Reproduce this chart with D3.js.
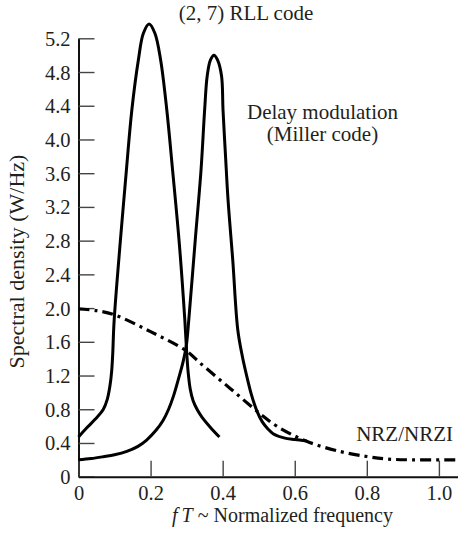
<!DOCTYPE html>
<html>
<head>
<meta charset="utf-8">
<script src="https://cdn.jsdelivr.net/npm/d3@7"></script>
<style>
  html, body { margin: 0; padding: 0; background: #fff; }
  svg { display: block; }
  text { font-family: "Liberation Serif", "Times New Roman", serif; fill: #231f20; }
</style>
</head>
<body>
<svg id="chart" width="458" height="536"></svg>
<script>
// ---- data ----
const rllX = [0, 0.023, 0.046, 0.069, 0.080, 0.087, 0.092, 0.095, 0.099, 0.133, 0.148, 0.166, 0.180, 0.196, 0.212, 0.228, 0.245, 0.261, 0.280, 0.295, 0.300, 0.304, 0.310, 0.318, 0.330, 0.342, 0.365, 0.391];
const rllY = [0.47, 0.58, 0.68, 0.80, 0.92, 1.07, 1.25, 1.46, 1.86, 3.64, 4.35, 4.94, 5.26, 5.37, 5.26, 4.94, 4.35, 3.64, 2.75, 1.86, 1.49, 1.25, 1.04, 0.90, 0.79, 0.71, 0.59, 0.47];

const millerX = [0, 0.035, 0.069, 0.10, 0.134, 0.165, 0.189, 0.215, 0.235, 0.250, 0.263, 0.278, 0.290, 0.299, 0.306, 0.324, 0.340, 0.350, 0.357, 0.366, 0.376, 0.386, 0.397, 0.401, 0.408, 0.415, 0.428, 0.442, 0.455, 0.467, 0.480, 0.494, 0.510, 0.525, 0.540, 0.570, 0.600, 0.633];
const millerY = [0.20, 0.215, 0.237, 0.26, 0.30, 0.36, 0.435, 0.55, 0.67, 0.80, 0.95, 1.17, 1.36, 1.55, 1.86, 2.81, 3.64, 4.35, 4.75, 4.94, 5.00, 4.94, 4.75, 4.35, 3.80, 3.28, 2.57, 1.74, 1.42, 1.19, 0.97, 0.79, 0.65, 0.57, 0.51, 0.46, 0.44, 0.425];

const nrzX = [0, 0.05, 0.1, 0.2, 0.3, 0.337, 0.42, 0.503, 0.55, 0.633, 0.725, 0.8, 0.855, 0.928, 1.05];
const nrzY = [1.99, 1.97, 1.92, 1.72, 1.49, 1.35, 1.05, 0.75, 0.60, 0.42, 0.30, 0.24, 0.21, 0.20, 0.20];

const yTicks = [0, 0.4, 0.8, 1.2, 1.6, 2.0, 2.4, 2.8, 3.2, 3.6, 4.0, 4.4, 4.8, 5.2];
const yTickLabels = ["0", "0.4", "0.8", "1.2", "1.6", "2.0", "2.4", "2.8", "3.2", "3.6", "4.0", "4.4", "4.8", "5.2"];
const xTicks = [0, 0.2, 0.4, 0.6, 0.8, 1.0];
const xTickLabels = ["0", "0.2", "0.4", "0.6", "0.8", "1.0"];

// ---- layout ----
const svg = d3.select("#chart");
const x = d3.scaleLinear().domain([0, 1.053]).range([78.5, 458]);
const y = d3.scaleLinear().domain([0, 5.2]).range([476.7, 38.3]);

// y axis
const yAxis = d3.axisLeft(y)
  .tickValues(yTicks)
  .tickFormat((d, i) => yTickLabels[i])
  .tickSize(-16)
  .tickSizeOuter(0)
  .tickPadding(8);
const gy = svg.append("g").attr("transform", `translate(${x(0)},0)`).call(yAxis);
gy.select(".domain").attr("stroke", "#111").attr("stroke-width", 2);
gy.selectAll(".tick line").attr("stroke", "#444").attr("stroke-width", 1.4);
gy.selectAll(".tick text").attr("font-size", 20.5).attr("font-family", "Liberation Serif").attr("fill", "#231f20").attr("dy", "0.34em");

// x axis
const xAxis = d3.axisBottom(x)
  .tickValues(xTicks)
  .tickFormat((d, i) => xTickLabels[i])
  .tickSize(-16)
  .tickSizeOuter(0)
  .tickPadding(9);
const gx = svg.append("g").attr("transform", `translate(0,${y(0)})`).call(xAxis);
gx.select(".domain").attr("stroke", "#111").attr("stroke-width", 2);
gx.selectAll(".tick line").attr("stroke", "#444").attr("stroke-width", 1.4);
gx.selectAll(".tick text").attr("font-size", 20.5).attr("font-family", "Liberation Serif").attr("fill", "#231f20");

// curves
const line = d3.line()
  .x(d => x(d[0]))
  .y(d => y(d[1]))
  .curve(d3.curveCatmullRom.alpha(0.5));

const rll = rllX.map((v, i) => [v, rllY[i]]);
const miller = millerX.map((v, i) => [v, millerY[i]]);
const nrz = nrzX.map((v, i) => [v, nrzY[i]]);

svg.append("path").datum(nrz).attr("d", line)
  .attr("fill", "none").attr("stroke", "#000").attr("stroke-width", 3.2)
  .attr("stroke-dasharray", "11,5,3,5");
svg.append("path").datum(rll).attr("d", line)
  .attr("fill", "none").attr("stroke", "#000").attr("stroke-width", 3);
svg.append("path").datum(miller).attr("d", line)
  .attr("fill", "none").attr("stroke", "#000").attr("stroke-width", 3);

// labels
svg.append("text").attr("x", 246).attr("y", 19.5).attr("text-anchor", "middle")
  .attr("font-size", 21).text("(2, 7) RLL code");
svg.append("text").attr("x", 322.5).attr("y", 119).attr("text-anchor", "middle")
  .attr("font-size", 21).text("Delay modulation");
svg.append("text").attr("x", 322.5).attr("y", 141).attr("text-anchor", "middle")
  .attr("font-size", 21).text("(Miller code)");
svg.append("text").attr("x", 453).attr("y", 440.5).attr("text-anchor", "end")
  .attr("font-size", 21).text("NRZ/NRZI");

svg.append("text")
  .attr("transform", "translate(24,261.5) rotate(-90)")
  .attr("text-anchor", "middle").attr("font-size", 22)
  .text("Spectral density (W/Hz)");

const xl = svg.append("text").attr("x", 282.5).attr("y", 522).attr("text-anchor", "middle").attr("font-size", 20);
xl.append("tspan").attr("font-style", "italic").text("f\u2009T");
xl.append("tspan").text(" ~ Normalized frequency");
</script>
</body>
</html>
